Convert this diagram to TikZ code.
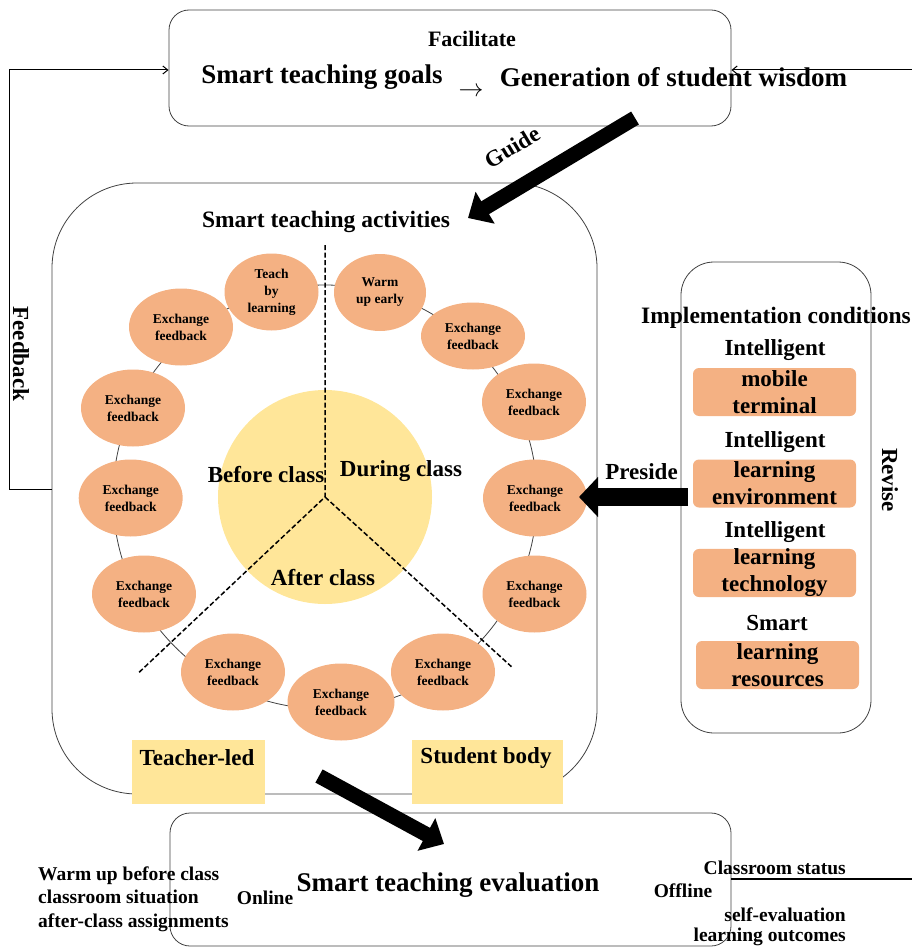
\documentclass[tikz,border=0pt]{standalone}
\usepackage{fontspec}
\setmainfont{Liberation Serif}
\usetikzlibrary{shapes.geometric,arrows.meta}
\definecolor{orng}{HTML}{F4B183}
\definecolor{yel}{HTML}{FFE699}
\definecolor{edge}{HTML}{404040}
\newcommand\fsz[2]{\fontsize{#1}{#2}\selectfont\bfseries}
\tikzset{
  box/.style={draw=edge,line width=0.8pt,rounded corners=#1,inner sep=0pt},
  oval/.style={ellipse,fill=orng,minimum width=104pt,minimum height=77pt,inner sep=0pt,align=center,font=\fsz{13.5}{17}},
  condbox/.style={fill=orng,rounded corners=6pt,minimum width=163pt,minimum height=48pt,inner sep=0pt,align=center,font=\fsz{23}{27}},
  ybox/.style={fill=yel,minimum width=#1,minimum height=64pt,inner sep=0pt},
  lbl/.style={inner sep=0pt,font=\fsz{23}{27}},
  thinln/.style={draw=black,line width=1pt},
  barb/.style={-{Straight Barb[length=5pt,width=8pt]}},
  fat/.style={line width=15pt,-{Triangle[length=20pt,width=36pt]}},
  dashln/.style={dashed,dash pattern=on 5pt off 2.5pt,line width=1.5pt}
}
\begin{document}
\begin{tikzpicture}[x=1pt,y=-1pt]
\useasboundingbox (0,0) rectangle (912,947);
% main boxes
\node[box=20pt,minimum width=562pt,minimum height=116pt] (top) at (450,68) {};
\node[box=85pt,minimum width=545pt,minimum height=611pt] (act) at (324.5,488.5) {};
\node[box=33pt,minimum width=190pt,minimum height=471pt] (cond) at (776,497.5) {};
\node[box=20pt,minimum width=561pt,minimum height=133pt] (eval) at (450.5,879.5) {};
% top texts
\node[lbl,font=\fsz{22}{26}] (fac) at (472,39) {Facilitate};
\node[lbl,font=\fsz{27}{32}] (goals) at (322,77) {Smart teaching goals};
\node[lbl,font=\fsz{27}{32}] (wis) at (673.5,77) {Generation of student wisdom};
\node[lbl,font=\fsz{26}{30}] (sarr) at (471,92) {$\rightarrow$};
% feedback loop
\coordinate (fbA) at (52,489);
\coordinate (fbB) at (9,489);
\coordinate (fbC) at (9,70);
\draw[thinln,barb] (fbA) -- (fbB) -- (fbC) -- (fbC -| top.west);
\node[lbl,rotate=-90] (fbt) at (21,354) {Feedback};
\coordinate (rvA) at (912,70);
\draw[thinln,barb] (rvA) -- (rvA -| top.east);
% guide arrow
\coordinate (gA) at (635,118);
\coordinate (gB) at (468,218);
\draw[fat] (gA) -- (gB);
\node[lbl,rotate=31] (guide) at (512,147) {Guide};
% activities
\node[lbl,font=\fsz{23.5}{28}] (sta) at (326,222) {Smart teaching activities};
\node[circle,fill=yel,minimum size=214pt,inner sep=0pt] (core) at (325,497) {};
\node[circle,draw=edge,line width=0.8pt,minimum size=424pt,inner sep=0pt] (ring) at (325,497) {};
\node[oval,minimum width=94pt] (e1) at (271.5,292) {Teach\\by\\learning};
\node[oval,minimum width=92pt] (e2) at (380,292.5) {Warm\\up early};
\node[oval,minimum height=67pt] (e3) at (473,336) {Exchange\\feedback};
\node[oval] (e4) at (534,402) {Exchange\\feedback};
\node[oval] (e5) at (535,498) {Exchange\\feedback};
\node[oval] (e6) at (534.5,594) {Exchange\\feedback};
\node[oval] (e7) at (443,672) {Exchange\\feedback};
\node[oval,minimum width=107pt] (e8) at (341,702) {Exchange\\feedback};
\node[oval] (e9) at (233,672) {Exchange\\feedback};
\node[oval] (e10) at (144,594) {Exchange\\feedback};
\node[oval] (e11) at (130.7,498) {Exchange\\feedback};
\node[oval] (e12) at (133,408) {Exchange\\feedback};
\node[oval] (e13) at (181,327) {Exchange\\feedback};
\coordinate (j) at (325,497);
\coordinate (d1) at (325,245);
\coordinate (d2) at (138.7,672.7);
\coordinate (d3) at (511.5,666.7);
\draw[dashln] (d1) -- (j) -- (d2);
\draw[dashln] (j) -- (d3);
\node[lbl] (bc) at (266,475) {Before class};
\node[lbl] (dc) at (401,471) {During class};
\node[lbl] (ac) at (323,578) {After class};
\node[ybox=133pt] (tlr) at (198.5,772) {};
\node[lbl] (tl) at (197,758) {Teacher-led};
\node[ybox=151pt] (sbr) at (487.5,772) {};
\node[lbl] (sb) at (486,758) {Student body};
% bottom arrow
\coordinate (bA) at (319,776);
\coordinate (bB) at (444,844);
\draw[fat] (bA) -- (bB);
% conditions
\node[lbl,font=\fsz{23.5}{28}] (ic) at (776,318) {Implementation conditions};
\node[lbl] (i1) at (775,350) {Intelligent};
\node[condbox] (c1) at (774.5,392) {mobile\\terminal};
\node[lbl] (i2) at (775,442) {Intelligent};
\node[condbox] (c2) at (774.5,483.5) {learning\\environment};
\node[lbl] (i3) at (775,532) {Intelligent};
\node[condbox] (c3) at (774.5,573) {learning\\technology};
\node[lbl] (i4) at (777,623) {Smart};
\node[condbox] (c4) at (777.5,665) {learning\\resources};
\node[lbl,rotate=-90] (rev) at (890,480) {Revise};
% preside arrow
\coordinate (pA) at (688,497);
\coordinate (pB) at (579,497);
\draw[line width=18pt,-{Triangle[length=19pt,width=39pt]}] (pA) -- (pB);
\node[lbl] (pre) at (641.5,472) {Preside};
% evaluation
\node[lbl,font=\fsz{27}{32}] (ste) at (448,885) {Smart teaching evaluation};
\node[lbl,font=\fsz{19.5}{23.5}] (on) at (265,898) {Online};
\node[lbl,font=\fsz{19.5}{23.5}] (off) at (683,891) {Offline};
\node[lbl,font=\fsz{19.5}{23.5},align=left,anchor=west] (onl) at (38,899) {Warm up before class\\classroom situation\\after-class assignments};
\node[lbl,font=\fsz{19.5}{23.5},anchor=east] (cs) at (846,868) {Classroom status};
\coordinate (cl) at (912,879);
\draw[line width=1.3pt] (cl) -- (cl -| eval.east);
\node[lbl,font=\fsz{19.5}{20},align=right,anchor=east] (se) at (846,927) {self-evaluation\\learning outcomes};
\end{tikzpicture}
\end{document}
